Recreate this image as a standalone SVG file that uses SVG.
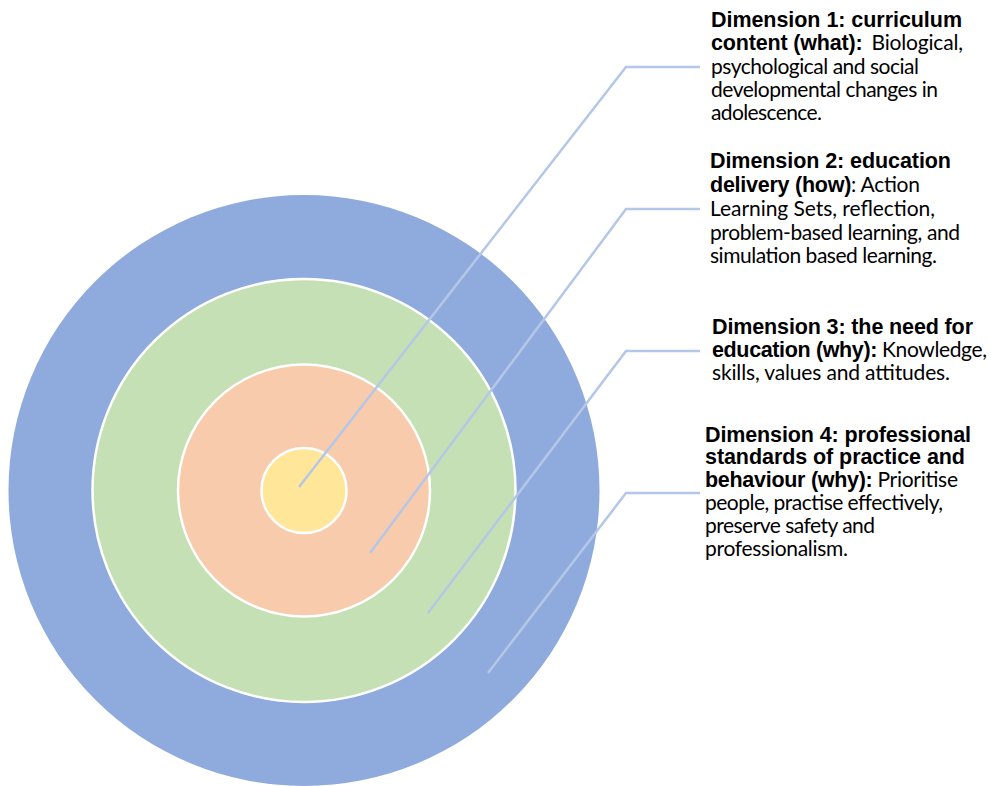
<svg xmlns="http://www.w3.org/2000/svg" width="991" height="786" viewBox="0 0 991 786">
<style>
.ring{stroke:#ffffff;stroke-width:2.5}
.b{font-family:"Liberation Sans",Arial,sans-serif;font-weight:bold;font-size:21.5px;fill:#000}
.r{font-family:Lato,"Open Sans",sans-serif;font-weight:normal;font-size:21px;fill:#000}
.conn{fill:none;stroke:#B4C7E7;stroke-width:2.5;stroke-linejoin:miter}
</style>
<rect width="991" height="786" fill="#ffffff"/>
<g id="ring4"><circle cx="304" cy="490.5" r="295.5" fill="#8FAADC"/></g>
<g id="ring3"><circle class="ring" cx="304" cy="490.5" r="211.5" fill="#C5E0B4"/></g>
<g id="ring2"><circle class="ring" cx="304" cy="490.5" r="126" fill="#F8CBAD"/></g>
<g id="ring1"><circle class="ring" cx="304" cy="490.5" r="42.5" fill="#FFE699"/></g>
<g id="connectors">
<polyline class="conn" points="299,487 626,67 700,67"/>
<polyline class="conn" points="370,553 626,209 700,209"/>
<polyline class="conn" points="428,613 626,351 700,351"/>
<polyline class="conn" points="488,673 626,493 700,493"/>
</g>
<g id="label1">
<text class="b" x="711" y="27" textLength="251">Dimension 1: curriculum</text>
<text x="711" y="50" textLength="252"><tspan class="b">content (what):</tspan><tspan class="r" dx="9">Biological,</tspan></text>
<text class="r" x="711" y="74" textLength="208">psychological and social</text>
<text class="r" x="711" y="97" textLength="227">developmental changes in</text>
<text class="r" x="711" y="120" textLength="111">adolescence.</text>
</g>
<g id="label2">
<text class="b" x="710" y="168" textLength="241">Dimension 2: education</text>
<text x="710" y="192" textLength="210"><tspan class="b">delivery (how)</tspan><tspan class="r">: Action</tspan></text>
<text class="r" x="710" y="216" textLength="225">Learning Sets, reflection,</text>
<text class="r" x="710" y="240" textLength="250">problem-based learning, and</text>
<text class="r" x="710" y="263" textLength="227">simulation based learning.</text>
</g>
<g id="label3">
<text class="b" x="712" y="334" textLength="261">Dimension 3: the need for</text>
<text x="712" y="357" textLength="275"><tspan class="b">education (why):</tspan><tspan class="r" dx="5">Knowledge,</tspan></text>
<text class="r" x="712" y="380" textLength="238">skills, values and attitudes.</text>
</g>
<g id="label4">
<text class="b" x="705" y="442" textLength="266">Dimension 4: professional</text>
<text class="b" x="705" y="464" textLength="260">standards of practice and</text>
<text x="705" y="487" textLength="253"><tspan class="b">behaviour (why):</tspan><tspan class="r" dx="5">Prioritise</tspan></text>
<text class="r" x="705" y="510" textLength="238">people, practise effectively,</text>
<text class="r" x="705" y="533" textLength="170">preserve safety and</text>
<text class="r" x="705" y="556" textLength="143">professionalism.</text>
</g>
</svg>
